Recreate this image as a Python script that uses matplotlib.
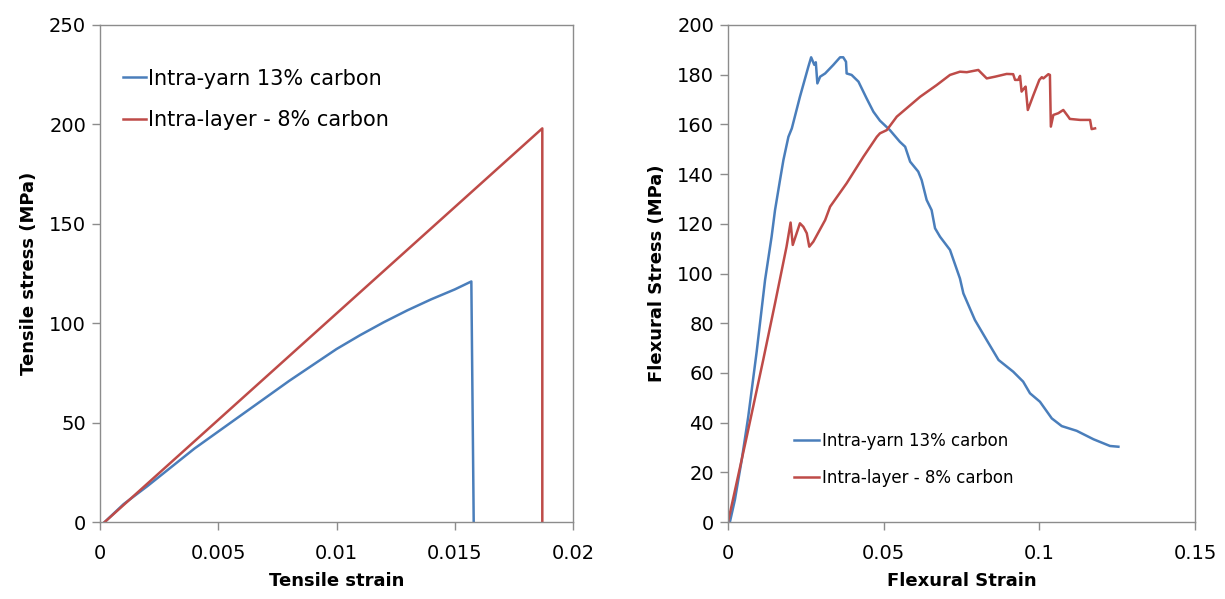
"""Tensile and flexural stress-strain curves, two panels side by side."""

import matplotlib

matplotlib.use("Agg")
import matplotlib.pyplot as plt  # noqa: E402

BLUE = "#4a7ebb"
RED = "#be4b48"
GREY = "#8c8c8c"

labels = ["Intra-yarn 13% carbon", "Intra-layer - 8% carbon"]

# tensile panel
tens_yarn_strain = [0.0002, 0.001, 0.002, 0.003, 0.004, 0.005, 0.006, 0.007,
                    0.008, 0.009, 0.010, 0.011, 0.012, 0.013, 0.014, 0.015,
                    0.0157, 0.0158]
tens_yarn_stress = [0, 9, 18, 27.5, 37, 45.5, 54, 62.5, 71, 79, 87, 94, 100.5,
                    106.5, 112, 117, 121, 0]
tens_layer_strain = [0.0002, 0.0187, 0.0187]
tens_layer_stress = [0, 198, 0]

# flexural panel
flex_yarn_strain = [0.0006, 0.0022, 0.0044, 0.0065, 0.0092, 0.0119, 0.0140,
                    0.0151, 0.0167, 0.0178, 0.0194, 0.0205, 0.0231, 0.0258,
                    0.0267, 0.0277, 0.0282, 0.0287, 0.0296, 0.0312, 0.0338,
                    0.0360, 0.0370, 0.0379, 0.0381, 0.0397, 0.0419, 0.0445,
                    0.0467, 0.0488, 0.0520, 0.0552, 0.0569, 0.0585, 0.0611,
                    0.0622, 0.0638, 0.0654, 0.0665, 0.0681, 0.0713, 0.0745,
                    0.0756, 0.0793, 0.0831, 0.0869, 0.0916, 0.0948, 0.0970,
                    0.1002, 0.1040, 0.1072, 0.1120, 0.1174, 0.1227, 0.1254]
flex_yarn_stress = [0, 8.9, 25, 42.4, 68.5, 97.4, 114.8, 125.5, 137.6, 145.7,
                    155, 158.4, 171.1, 183.2, 187, 184, 185, 176.5, 179.2,
                    180.5, 183.9, 187, 187, 185.2, 180.5, 179.9, 177.2, 170.5,
                    165.1, 161.5, 157.7, 153, 151, 145, 141, 137.6, 129.6,
                    125.5, 118.2, 114.8, 109.5, 98, 92, 81.3, 73.2, 65.2, 60.5,
                    56.5, 51.8, 48.4, 41.7, 38.6, 36.7, 33.3, 30.6, 30.3]

flex_layer_strain = [0.0, 0.0060, 0.0113, 0.0151, 0.0188, 0.0201, 0.0208,
                     0.0231, 0.0242, 0.0253, 0.0261, 0.0274, 0.0312, 0.0328,
                     0.0381, 0.0435, 0.0478, 0.0488, 0.0510, 0.0542, 0.0617,
                     0.0670, 0.0713, 0.0745, 0.0767, 0.0804, 0.0815, 0.0831,
                     0.0858, 0.0895, 0.0916, 0.0922, 0.0932, 0.0938, 0.0943,
                     0.0951, 0.0956, 0.0963, 0.0981, 0.1000, 0.1008, 0.1013,
                     0.1029, 0.1034, 0.1037, 0.1045, 0.1061, 0.1077, 0.1093,
                     0.1098, 0.1131, 0.1163, 0.1168, 0.1179]
flex_layer_stress = [0, 34.3, 65.2, 88, 110.8, 120.5, 111.5, 120.2, 118.8,
                     116.2, 110.8, 112.8, 121.5, 126.9, 136.3, 147, 155, 156.4,
                     157.7, 163.1, 171.1, 175.8, 179.9, 181.2, 181, 181.9,
                     180.5, 178.5, 179.2, 180.3, 180.2, 177.9, 177.9, 179.5,
                     173.2, 174.5, 175.2, 165.8, 171.8, 177.9, 179, 178.5,
                     180.2, 179.9, 159.1, 163.8, 164.5, 165.8, 163.1, 162.2,
                     161.8, 161.8, 158.1, 158.4]


def style_axes(ax):
    for side in ["left", "right", "top", "bottom"]:
        ax.spines[side].set_color(GREY)
        ax.spines[side].set_linewidth(1.0)
    ax.tick_params(axis="both", direction="out", color=GREY, length=6,
                   width=1.0, labelsize=14, labelcolor="black")
    ax.tick_params(axis="x", pad=10)
    ax.tick_params(axis="y", pad=4)


plt.rcParams["font.family"] = ["DejaVu Sans"]

fig = plt.figure(figsize=(12.25, 5.99), dpi=100)
ax1 = fig.add_axes([0.0816, 0.1285, 0.3862, 0.8298])
ax2 = fig.add_axes([0.5943, 0.1285, 0.3812, 0.8298])

# left: tensile
ax1.plot(tens_yarn_strain, tens_yarn_stress, color=BLUE, lw=1.8, label=labels[0])
ax1.plot(tens_layer_strain, tens_layer_stress, color=RED, lw=1.8, label=labels[1])
ax1.set_xlim(0, 0.02)
ax1.set_ylim(0, 250)
ax1.set_xticks([0, 0.005, 0.01, 0.015, 0.02])
ax1.set_xticklabels(["0", "0.005", "0.01", "0.015", "0.02"])
ax1.set_yticks([0, 50, 100, 150, 200, 250])
ax1.set_xlabel("Tensile strain", fontsize=13, fontweight="bold", labelpad=6)
ax1.set_ylabel("Tensile stress (MPa)", fontsize=13, fontweight="bold", labelpad=8)
style_axes(ax1)
ax1.legend(loc="upper left", bbox_to_anchor=(0.01, 0.95), frameon=False,
           fontsize=15, handlelength=1.1, handletextpad=0.1, labelspacing=1.05)

# right: flexural
ax2.plot(flex_yarn_strain, flex_yarn_stress, color=BLUE, lw=1.8, label=labels[0])
ax2.plot(flex_layer_strain, flex_layer_stress, color=RED, lw=1.8, label=labels[1])
ax2.set_xlim(0, 0.15)
ax2.set_ylim(0, 200)
ax2.set_xticks([0, 0.05, 0.1, 0.15])
ax2.set_xticklabels(["0", "0.05", "0.1", "0.15"])
ax2.set_yticks(range(0, 201, 20))
ax2.set_xlabel("Flexural Strain", fontsize=13, fontweight="bold", labelpad=6)
ax2.set_ylabel("Flexural Stress (MPa)", fontsize=13, fontweight="bold", labelpad=8)
style_axes(ax2)
ax2.legend(loc="lower left", bbox_to_anchor=(0.11, 0.04), frameon=False,
           fontsize=12, handlelength=1.5, handletextpad=0.15, labelspacing=1.15)

fig.savefig("out.png", dpi=100)
